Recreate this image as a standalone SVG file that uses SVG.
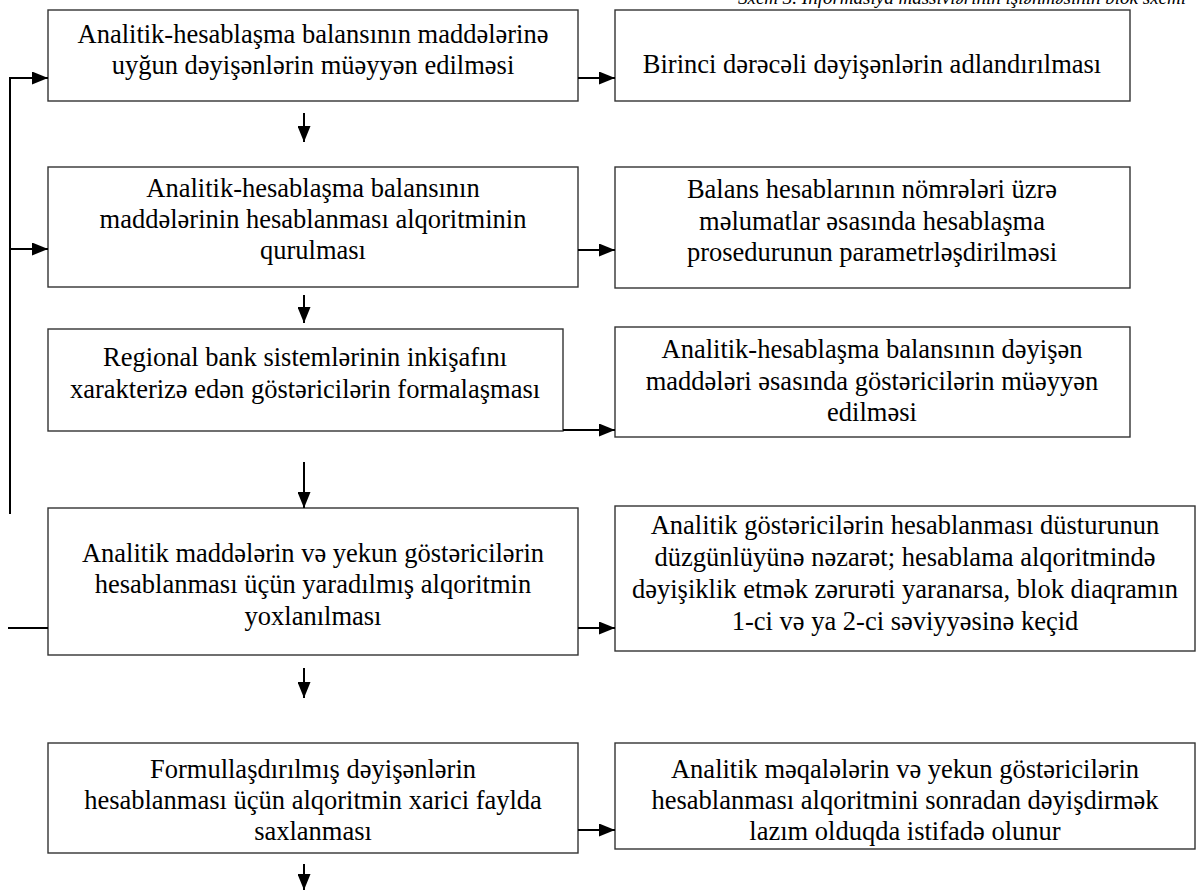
<svg xmlns="http://www.w3.org/2000/svg" width="1200" height="890" viewBox="0 0 1200 890">
<style>
.box{fill:#fff;stroke:#333;stroke-width:1.4}
.t{font-family:"Liberation Serif","Times New Roman",serif;font-size:26.5px;fill:#000;text-anchor:middle}
.cap{font-family:"Liberation Serif","Times New Roman",serif;font-size:19px;font-style:italic;fill:#000}
.c{stroke:#000;stroke-width:2;fill:none}
</style>
<defs>
<marker id="a" viewBox="0 0 16 13" refX="16" refY="6.5" markerWidth="16" markerHeight="13" markerUnits="userSpaceOnUse" orient="auto">
<path d="M0,0 L16,6.5 L0,13 z" fill="#000"/>
</marker>
</defs>
<text class="cap" x="738" y="4">Sxem 3. İnformasiya massivlərinin işlənməsinin blok sxemi</text>

<g id="n1"><rect class="box" x="48" y="10" width="530" height="91"/>
<text class="t" x="313" y="43">Analitik-hesablaşma balansının maddələrinə</text>
<text class="t" x="313" y="74">uyğun dəyişənlərin müəyyən edilməsi</text></g>
<g id="r1"><rect class="box" x="615" y="10" width="515" height="91"/>
<text class="t" x="872" y="73">Birinci dərəcəli dəyişənlərin adlandırılması</text></g>

<g id="n2"><rect class="box" x="48" y="167" width="530" height="120"/>
<text class="t" x="313" y="197">Analitik-hesablaşma balansının</text>
<text class="t" x="313" y="228">maddələrinin hesablanması alqoritminin</text>
<text class="t" x="313" y="259">qurulması</text></g>
<g id="r2"><rect class="box" x="615" y="167" width="515" height="121"/>
<text class="t" x="872" y="198">Balans hesablarının nömrələri üzrə</text>
<text class="t" x="872" y="230">məlumatlar əsasında hesablaşma</text>
<text class="t" x="872" y="261">prosedurunun parametrləşdirilməsi</text></g>

<g id="n3"><rect class="box" x="48" y="329" width="515" height="102"/>
<text class="t" x="305" y="366">Regional bank sistemlərinin inkişafını</text>
<text class="t" x="305" y="398">xarakterizə edən göstəricilərin formalaşması</text></g>
<g id="r3"><rect class="box" x="615" y="327" width="515" height="110"/>
<text class="t" x="872" y="358">Analitik-hesablaşma balansının dəyişən</text>
<text class="t" x="872" y="390">maddələri əsasında göstəricilərin müəyyən</text>
<text class="t" x="872" y="421">edilməsi</text></g>

<g id="n4"><rect class="box" x="48" y="508" width="530" height="147"/>
<text class="t" x="313" y="562">Analitik maddələrin və yekun göstəricilərin</text>
<text class="t" x="313" y="593">hesablanması üçün yaradılmış alqoritmin</text>
<text class="t" x="313" y="625">yoxlanılması</text></g>
<g id="r4"><rect class="box" x="615" y="506" width="580" height="145"/>
<text class="t" x="905" y="534">Analitik göstəricilərin hesablanması düsturunun</text>
<text class="t" x="905" y="566">düzgünlüyünə nəzarət; hesablama alqoritmində</text>
<text class="t" x="905" y="598">dəyişiklik etmək zərurəti yaranarsa, blok diaqramın</text>
<text class="t" x="905" y="630">1-ci və ya 2-ci səviyyəsinə keçid</text></g>

<g id="n5"><rect class="box" x="48" y="743" width="530" height="110"/>
<text class="t" x="313" y="778">Formullaşdırılmış dəyişənlərin</text>
<text class="t" x="313" y="809">hesablanması üçün alqoritmin xarici faylda</text>
<text class="t" x="313" y="840">saxlanması</text></g>
<g id="r5"><rect class="box" x="615" y="743" width="580" height="106"/>
<text class="t" x="905" y="778">Analitik məqalələrin və yekun göstəricilərin</text>
<text class="t" x="905" y="809">hesablanması alqoritmini sonradan dəyişdirmək</text>
<text class="t" x="905" y="840">lazım olduqda istifadə olunur</text></g>

<g id="connectors">
<path class="c" d="M578,78 H615" marker-end="url(#a)"/>
<path class="c" d="M578,250 H615" marker-end="url(#a)"/>
<path class="c" d="M563,430 H615" marker-end="url(#a)"/>
<path class="c" d="M578,628 H615" marker-end="url(#a)"/>
<path class="c" d="M578,830 H615" marker-end="url(#a)"/>
<path class="c" d="M304,113 V142" marker-end="url(#a)"/>
<path class="c" d="M304,295 V323" marker-end="url(#a)"/>
<path class="c" d="M304,462 V508" marker-end="url(#a)"/>
<path class="c" d="M304,668 V698" marker-end="url(#a)"/>
<path class="c" d="M304,864 V890" marker-end="url(#a)"/>
<path class="c" d="M10,514 V78 H48" marker-end="url(#a)"/>
<path class="c" d="M10,249 H48" marker-end="url(#a)"/>
<path class="c" d="M8,628 H48"/>
</g>
</svg>
